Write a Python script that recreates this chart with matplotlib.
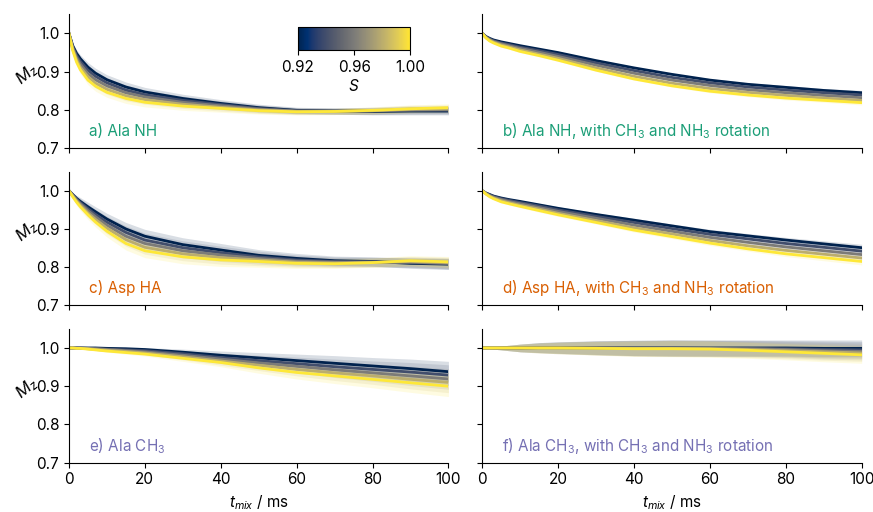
import numpy as np
import matplotlib
matplotlib.use('Agg')
import matplotlib.pyplot as plt
from matplotlib import cm, colors

plt.rcParams['font.family'] = ['Inter', 'DejaVu Sans']
plt.rcParams['mathtext.fontset'] = 'custom'
plt.rcParams['mathtext.rm'] = 'Inter'
plt.rcParams['mathtext.it'] = 'Inter:italic'
plt.rcParams['font.size'] = 11

# mixing times (ms) and order parameters
t_mix = [0, 1, 2, 3, 5, 7, 10, 15, 20, 30, 40, 50, 60, 70, 80, 90, 100]
S_values = [0.92, 0.94, 0.96, 0.98, 1.00]

# a) Ala NH
ala_nh = [
    [1.0, 0.968, 0.948, 0.934, 0.912, 0.896, 0.879, 0.860, 0.847, 0.830, 0.817, 0.806, 0.799, 0.797, 0.796, 0.797, 0.797],
    [1.0, 0.965, 0.942, 0.927, 0.904, 0.888, 0.871, 0.852, 0.840, 0.825, 0.814, 0.804, 0.798, 0.797, 0.797, 0.799, 0.799],
    [1.0, 0.962, 0.937, 0.920, 0.895, 0.879, 0.863, 0.845, 0.834, 0.820, 0.811, 0.802, 0.797, 0.797, 0.798, 0.800, 0.801],
    [1.0, 0.958, 0.931, 0.912, 0.887, 0.870, 0.854, 0.837, 0.827, 0.815, 0.807, 0.800, 0.796, 0.796, 0.798, 0.802, 0.803],
    [1.0, 0.955, 0.925, 0.905, 0.878, 0.862, 0.846, 0.830, 0.820, 0.810, 0.804, 0.798, 0.795, 0.796, 0.799, 0.803, 0.806],
]
ala_nh_err = [0, 0.006, 0.009, 0.010, 0.012, 0.013, 0.013, 0.013, 0.012, 0.011, 0.010, 0.009, 0.008, 0.008, 0.009, 0.010, 0.010]

# b) Ala NH, with rotation
ala_nh_rot = [
    [1.0, 0.992, 0.987, 0.983, 0.978, 0.974, 0.968, 0.959, 0.950, 0.929, 0.910, 0.893, 0.878, 0.867, 0.859, 0.851, 0.845],
    [1.0, 0.991, 0.985, 0.981, 0.975, 0.971, 0.964, 0.955, 0.945, 0.923, 0.903, 0.885, 0.871, 0.860, 0.852, 0.845, 0.839],
    [1.0, 0.990, 0.984, 0.979, 0.973, 0.968, 0.961, 0.951, 0.940, 0.917, 0.896, 0.878, 0.864, 0.853, 0.845, 0.838, 0.832],
    [1.0, 0.989, 0.982, 0.977, 0.970, 0.965, 0.957, 0.946, 0.935, 0.910, 0.888, 0.870, 0.856, 0.846, 0.838, 0.831, 0.825],
    [1.0, 0.988, 0.980, 0.975, 0.967, 0.962, 0.953, 0.942, 0.930, 0.904, 0.881, 0.863, 0.849, 0.839, 0.831, 0.825, 0.819],
]
ala_nh_rot_err = [0, 0.001, 0.002, 0.002, 0.003, 0.003, 0.003, 0.003, 0.003, 0.003, 0.003, 0.003, 0.004, 0.004, 0.005, 0.005, 0.006]

# c) Asp HA
asp_ha = [
    [1.0, 0.990, 0.980, 0.972, 0.958, 0.945, 0.926, 0.900, 0.881, 0.859, 0.845, 0.831, 0.823, 0.817, 0.815, 0.810, 0.808],
    [1.0, 0.989, 0.978, 0.969, 0.953, 0.938, 0.918, 0.891, 0.871, 0.851, 0.838, 0.827, 0.819, 0.815, 0.814, 0.812, 0.809],
    [1.0, 0.988, 0.976, 0.966, 0.948, 0.932, 0.910, 0.881, 0.862, 0.843, 0.832, 0.823, 0.816, 0.813, 0.813, 0.813, 0.810],
    [1.0, 0.986, 0.973, 0.962, 0.942, 0.925, 0.902, 0.872, 0.852, 0.835, 0.825, 0.819, 0.813, 0.811, 0.812, 0.815, 0.812],
    [1.0, 0.984, 0.970, 0.958, 0.937, 0.918, 0.894, 0.862, 0.843, 0.827, 0.819, 0.815, 0.810, 0.809, 0.812, 0.817, 0.814],
]
asp_ha_err = [0, 0.004, 0.008, 0.010, 0.012, 0.013, 0.015, 0.017, 0.018, 0.018, 0.017, 0.015, 0.013, 0.012, 0.012, 0.013, 0.014]

# d) Asp HA, with rotation
asp_ha_rot = [
    [1.0, 0.994, 0.990, 0.986, 0.981, 0.977, 0.972, 0.963, 0.954, 0.938, 0.923, 0.908, 0.893, 0.882, 0.871, 0.861, 0.851],
    [1.0, 0.993, 0.989, 0.985, 0.979, 0.975, 0.969, 0.960, 0.950, 0.933, 0.917, 0.901, 0.886, 0.874, 0.862, 0.852, 0.842],
    [1.0, 0.993, 0.987, 0.983, 0.977, 0.972, 0.966, 0.956, 0.946, 0.928, 0.910, 0.894, 0.878, 0.865, 0.853, 0.843, 0.833],
    [1.0, 0.992, 0.986, 0.981, 0.974, 0.969, 0.962, 0.952, 0.941, 0.922, 0.903, 0.887, 0.870, 0.856, 0.844, 0.834, 0.824],
    [1.0, 0.991, 0.984, 0.979, 0.971, 0.966, 0.959, 0.948, 0.937, 0.917, 0.897, 0.880, 0.863, 0.848, 0.835, 0.825, 0.815],
]
asp_ha_rot_err = [0, 0.001, 0.002, 0.002, 0.003, 0.003, 0.003, 0.004, 0.004, 0.004, 0.005, 0.005, 0.006, 0.006, 0.007, 0.008, 0.009]

# e) Ala CH3
ala_ch3 = [
    [1.0, 1.000, 1.000, 1.000, 1.000, 1.000, 0.999, 0.998, 0.996, 0.989, 0.981, 0.974, 0.967, 0.960, 0.953, 0.946, 0.938],
    [1.0, 1.000, 1.000, 1.000, 0.999, 0.999, 0.997, 0.995, 0.993, 0.985, 0.975, 0.967, 0.959, 0.951, 0.944, 0.937, 0.929],
    [1.0, 1.000, 1.000, 1.000, 0.999, 0.998, 0.996, 0.993, 0.990, 0.981, 0.971, 0.961, 0.952, 0.943, 0.935, 0.927, 0.919],
    [1.0, 1.000, 0.999, 0.999, 0.998, 0.996, 0.994, 0.991, 0.987, 0.977, 0.966, 0.955, 0.944, 0.935, 0.927, 0.918, 0.910],
    [1.0, 1.000, 0.999, 0.999, 0.997, 0.995, 0.992, 0.988, 0.984, 0.973, 0.962, 0.948, 0.936, 0.927, 0.918, 0.909, 0.900],
]
ala_ch3_err = [0, 0.000, 0.001, 0.001, 0.002, 0.002, 0.003, 0.004, 0.005, 0.008, 0.011, 0.014, 0.017, 0.020, 0.022, 0.025, 0.027]

# f) Ala CH3, with rotation
ala_ch3_rot = [
    [1.0, 1.0, 1.0, 1.0, 1.0, 1.0, 1.000, 1.001, 1.001, 1.001, 1.000, 1.000, 1.000, 1.000, 1.000, 0.999, 0.999],
    [1.0, 1.0, 1.0, 1.0, 1.0, 1.0, 1.000, 1.001, 1.001, 1.000, 1.000, 1.000, 0.999, 0.999, 0.998, 0.996, 0.995],
    [1.0, 1.0, 1.0, 1.0, 1.0, 1.0, 1.000, 1.000, 1.000, 1.000, 0.999, 0.999, 0.999, 0.998, 0.996, 0.993, 0.991],
    [1.0, 1.0, 1.0, 1.0, 1.0, 1.0, 1.000, 1.000, 1.000, 1.000, 0.999, 0.999, 0.998, 0.996, 0.993, 0.990, 0.987],
    [1.0, 1.0, 1.0, 1.0, 1.0, 1.0, 1.000, 1.000, 1.000, 0.999, 0.998, 0.998, 0.997, 0.994, 0.990, 0.986, 0.982],
]
ala_ch3_rot_err = [0, 0.001, 0.002, 0.003, 0.005, 0.007, 0.010, 0.013, 0.015, 0.018, 0.020, 0.021, 0.021, 0.021, 0.021, 0.022, 0.022]

panel_labels = [
    'a) Ala NH',
    'b) Ala NH, with CH$_3$ and NH$_3$ rotation',
    'c) Asp HA',
    'd) Asp HA, with CH$_3$ and NH$_3$ rotation',
    'e) Ala CH$_3$',
    'f) Ala CH$_3$, with CH$_3$ and NH$_3$ rotation',
]
panel_data = [ala_nh, ala_nh_rot, asp_ha, asp_ha_rot, ala_ch3, ala_ch3_rot]
panel_err = [ala_nh_err, ala_nh_rot_err, asp_ha_err, asp_ha_rot_err, ala_ch3_err, ala_ch3_rot_err]
label_colors = ['#1b9e77', '#1b9e77', '#d95f02', '#d95f02', '#7570b3', '#7570b3']

cmap = plt.get_cmap('cividis')
norm = colors.Normalize(vmin=0.92, vmax=1.00)

fig, axes = plt.subplots(3, 2, figsize=(8.73, 5.12), dpi=100, sharex=True, sharey=True)
fig.subplots_adjust(left=0.079, right=0.987, bottom=0.0963, top=0.972, hspace=0.175, wspace=0.089)

t = np.array(t_mix)
for i, ax in enumerate(axes.flat):
    err = np.array(panel_err[i])
    for S, y in zip(S_values, panel_data[i]):
        y = np.array(y)
        c = cmap(norm(S))
        ax.fill_between(t, y - err, y + err, color=c, alpha=0.15, lw=0)
        ax.plot(t, y, color=c, lw=2)
    ax.text(0.053, 0.127, panel_labels[i], transform=ax.transAxes, color=label_colors[i],
            fontsize=11, va='center', ha='left')
    ax.spines['top'].set_visible(False)
    ax.spines['right'].set_visible(False)
    ax.tick_params(labelsize=11)

ax0 = axes[0, 0]
ax0.set_xlim(0, 100)
ax0.set_ylim(0.7, 1.05)
ax0.set_xticks([0, 20, 40, 60, 80, 100])
ax0.set_yticks([0.7, 0.8, 0.9, 1.0])

for ax in axes[:, 0]:
    ax.set_ylabel('$M_z$', rotation=40, labelpad=2, fontsize=12)
for ax in axes[-1, :]:
    ax.set_xlabel('$t_{mix}$ / ms', fontsize=11)

# colorbar inside panel a
cax = ax0.inset_axes([0.603, 0.731, 0.297, 0.172])
sm = cm.ScalarMappable(norm=norm, cmap=cmap)
cb = fig.colorbar(sm, cax=cax, orientation='horizontal', ticks=[0.92, 0.96, 1.00])
cb.ax.set_xticklabels(['0.92', '0.96', '1.00'])
cb.set_label('$S$', labelpad=2, fontsize=11)
cb.ax.tick_params(labelsize=11)

plt.savefig('out.png', dpi=100)
